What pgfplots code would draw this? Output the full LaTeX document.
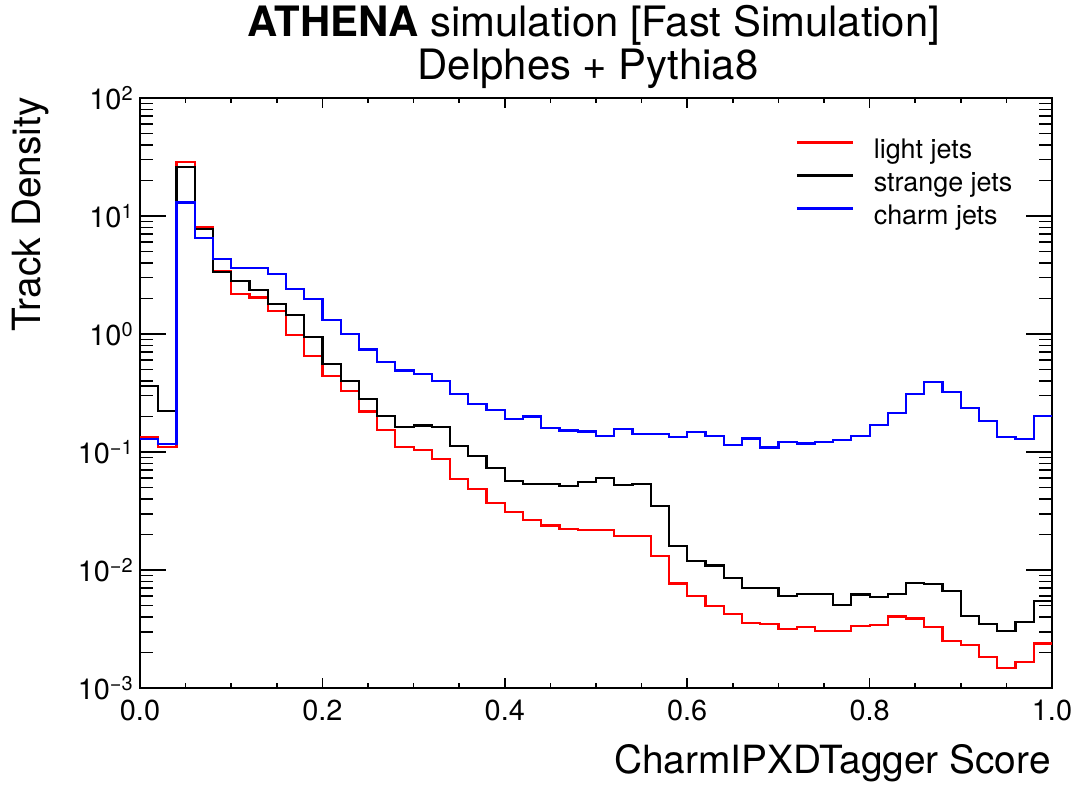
\documentclass[border=0pt]{standalone}
\usepackage{fontspec}
\setmainfont{TeX Gyre Heros}
\usepackage{pgfplots}
\usepackage{pgfplotstable}
\pgfplotsset{compat=1.18}
\newcommand\ep[1]{10\raisebox{4.8bp}{\fontsize{10}{10}\selectfont #1}}
\pgfplotstableread{
x r s c
0.00 0.135 0.36 0.128
0.02 0.11 0.224 0.117
0.04 28.7 25.9 13.0
0.06 8.1 7.8 6.5
0.08 3.4 3.35 4.3
0.10 2.18 2.8 3.6
0.12 2.04 2.35 3.6
0.14 1.57 1.8 3.24
0.16 0.98 1.44 2.4
0.18 0.655 0.95 1.97
0.20 0.444 0.553 1.31
0.22 0.33 0.40 1.0
0.24 0.22 0.28 0.74
0.26 0.154 0.203 0.575
0.28 0.111 0.163 0.49
0.30 0.104 0.168 0.46
0.32 0.087 0.163 0.40
0.34 0.0594 0.113 0.308
0.36 0.0489 0.0925 0.255
0.38 0.0372 0.073 0.227
0.40 0.031 0.0568 0.189
0.42 0.0264 0.0535 0.20
0.44 0.0238 0.0535 0.16
0.46 0.0223 0.0519 0.152
0.48 0.0218 0.0554 0.149
0.50 0.0218 0.0598 0.137
0.52 0.0195 0.0529 0.157
0.54 0.0195 0.0535 0.141
0.56 0.0131 0.035 0.141
0.58 0.0077 0.016 0.135
0.60 0.006 0.0119 0.147
0.62 0.00495 0.0109 0.136
0.64 0.00424 0.0086 0.115
0.66 0.00353 0.00703 0.13
0.68 0.00348 0.00703 0.109
0.70 0.00316 0.00605 0.121
0.72 0.00329 0.00622 0.118
0.74 0.00306 0.00622 0.121
0.76 0.00306 0.00502 0.126
0.78 0.00335 0.0062 0.137
0.80 0.00344 0.00594 0.17
0.82 0.00403 0.00627 0.213
0.84 0.00389 0.00782 0.31
0.86 0.00331 0.00764 0.39
0.88 0.00252 0.00659 0.322
0.90 0.0023 0.0041 0.237
0.92 0.00182 0.00351 0.182
0.94 0.00148 0.00302 0.133
0.96 0.00165 0.00363 0.129
0.98 0.00238 0.00546 0.203
1.00 0.00238 0.00546 0.203
}\hist
\begin{document}
\begin{tikzpicture}
\useasboundingbox (0,0) rectangle (540.5bp,393bp);
\begin{axis}[
  at={(70bp,49bp)}, anchor=south west,
  scale only axis, width=456bp, height=295bp,
  ymode=log, xmin=0, xmax=1, ymin=1e-3, ymax=1e2,
  axis line style={line width=1bp},
  xtick={0,0.2,0.4,0.6,0.8,1.0},
  xticklabels={0.0,0.2,0.4,0.6,0.8,1.0},
  minor x tick num=3,
  ytick={1e-3,1e-2,1e-1,1,10,100},
  yticklabels={\ep{−3},\ep{−2},\ep{−1},\ep{0},\ep{1},\ep{2}},
  xtick style={line width=0.8bp,black,/pgfplots/major tick length=5bp,/pgfplots/minor tick length=2.5bp},
  ytick style={line width=0.8bp,black,/pgfplots/major tick length=13bp,/pgfplots/minor tick length=6.5bp},
  tick label style={font=\fontsize{14.5}{17}\selectfont},
  xticklabel style={anchor=north, inner sep=0pt, yshift=-6bp},
  yticklabel style={anchor=east, inner sep=0pt, xshift=-3.5bp},
  legend style={draw=none, fill=none, at={(0.712,0.937)}, anchor=north west,
    font=\fontsize{13.5}{16}\selectfont, row sep=4.5bp, column sep=0pt,
    nodes={inner sep=0pt, text height=9.5bp, text depth=2.5bp}},
  legend cell align=left,
  legend image code/.code={\draw[#1] (0bp,4.5bp) -- (28bp,4.5bp); \path[draw=none] (0bp,4.5bp) -- (38.5bp,4.5bp);},
]
\addlegendimage{red, line width=1.1bp}
\addlegendentry{light jets}
\addlegendimage{black, line width=1.1bp}
\addlegendentry{strange jets}
\addlegendimage{blue, line width=1.1bp}
\addlegendentry{charm jets}
\addplot[forget plot, const plot mark left, red, line width=1.1bp] table[x=x,y=r]{\hist};
\addplot[forget plot, const plot mark left, black, line width=1.1bp] table[x=x,y=s]{\hist};
\addplot[forget plot, const plot mark left, blue, line width=1.1bp] table[x=x,y=c]{\hist};
\end{axis}
\node[anchor=base, inner sep=0pt, font=\fontsize{21}{25}\selectfont] at (297bp,374.5bp) {\textbf{ATHENA} simulation [Fast Simulation]};
\node[anchor=base, inner sep=0pt, font=\fontsize{21}{25}\selectfont] at (294bp,353bp) {Delphes + Pythia8};
\node[anchor=base east, inner sep=0pt, rotate=90, font=\fontsize{19.5}{23}\selectfont] at (20bp,344.5bp) {Track Density};
\node[anchor=base east, inner sep=0pt, font=\fontsize{19.5}{23}\selectfont] at (525.5bp,6.5bp) {CharmIPXDTagger Score};
\end{tikzpicture}
\end{document}
